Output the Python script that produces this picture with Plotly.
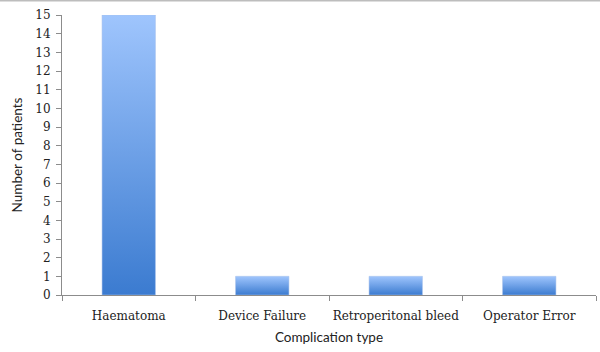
import plotly.graph_objects as go

categories = ["Haematoma", "Device Failure", "Retroperitonal bleed", "Operator Error"]
patients = [15, 1, 1, 1]
y_ticks = list(range(0, 16))

fig = go.Figure()
half = 0.2
for i, (cat, v) in enumerate(zip(categories, patients)):
    fig.add_trace(go.Scatter(
        x=[i - half, i + half, i + half, i - half, i - half],
        y=[0, 0, v, v, 0],
        mode="lines",
        fill="toself",
        line=dict(color="rgba(170,195,235,0.55)", width=1),
        fillgradient=dict(type="vertical",
                          colorscale=[[0, "#3b7bd0"], [1, "#9fc5fd"]]),
        name=cat,
        hoverinfo="skip",
        showlegend=False,
    ))

fig.update_layout(
    width=600, height=352,
    margin=dict(l=62, r=4, t=15, b=57),
    paper_bgcolor="white", plot_bgcolor="white",
    showlegend=False,
    xaxis=dict(
        range=[-0.5, 3.5],
        tickmode="array",
        tickvals=list(range(len(categories))),
        ticktext=categories,
        ticks="",
        ticklabelstandoff=10,
        showgrid=False, zeroline=False,
        showline=True, linecolor="#8c8c8c", linewidth=1,
        tickfont=dict(family="DejaVu Serif", size=12, color="#222"),
        minor=dict(tickmode="array", tickvals=[-0.5, 0.5, 1.5, 2.5, 3.5],
                   ticks="outside", ticklen=5, tickcolor="#8c8c8c", showgrid=False),
        title=dict(text="Complication type",
                   font=dict(family="Lato", size=13.5, color="#222"), standoff=10),
    ),
    yaxis=dict(
        range=[0, 15],
        tickmode="array", tickvals=y_ticks,
        ticks="outside", ticklen=5, tickcolor="#8c8c8c",
        ticklabelstandoff=3,
        showgrid=False, zeroline=False,
        showline=True, linecolor="#8c8c8c", linewidth=1,
        tickfont=dict(family="DejaVu Serif", size=12, color="#222"),
        title=dict(text="Number of patients",
                   font=dict(family="Lato", size=13.5, color="#222"), standoff=9),
    ),
    shapes=[dict(type="line", xref="paper", yref="paper",
                 x0=-0.2, x1=1.1, y0=1 + 14.5 / 280, y1=1 + 14.5 / 280,
                 line=dict(color="#bdbdbd", width=2))],
)

fig.write_html("out.html")
